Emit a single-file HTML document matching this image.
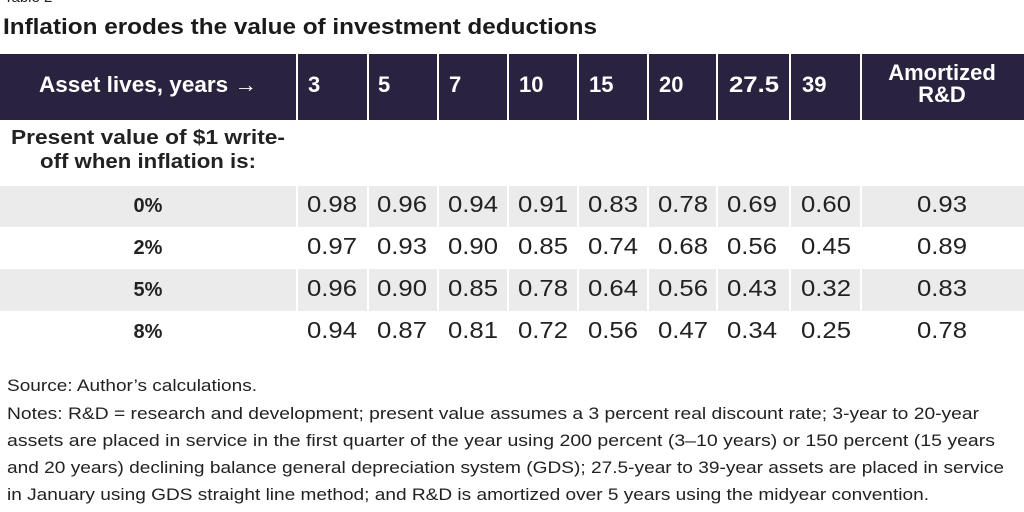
<!DOCTYPE html>
<html><head><meta charset="utf-8"><style>
html,body{margin:0;padding:0;background:#fff;width:1024px;height:512px;overflow:hidden}
svg{display:block}
text{font-family:"Liberation Sans",Arial,sans-serif}
.h{fill:#fff;font-weight:bold;font-size:22px}
.n{fill:#222;font-size:23px}
.b{fill:#222;font-weight:bold;font-size:20px}
.s{fill:#222;font-size:16.5px}
</style></head><body>
<svg width="1024" height="512" viewBox="0 0 1024 512">
<text x="4" y="2" class="s" style="font-size:15px">Table 2</text>
<text x="3" y="34" style="font-weight:bold;font-size:22px;fill:#1a1a1a" textLength="594" lengthAdjust="spacingAndGlyphs">Inflation erodes the value of investment deductions</text>
<g fill="#29233f">
<rect x="0" y="54" width="296" height="66"/>
<rect x="298" y="54" width="69" height="66"/>
<rect x="369" y="54" width="68" height="66"/>
<rect x="439" y="54" width="68" height="66"/>
<rect x="509" y="54" width="68" height="66"/>
<rect x="579" y="54" width="68" height="66"/>
<rect x="649" y="54" width="67" height="66"/>
<rect x="718" y="54" width="71" height="66"/>
<rect x="791" y="54" width="69" height="66"/>
<rect x="862" y="54" width="162" height="66"/>
</g>
<text x="148" y="92" class="h" text-anchor="middle" textLength="218" lengthAdjust="spacingAndGlyphs">Asset lives, years →</text>
<text x="308" y="92" class="h">3</text>
<text x="378" y="92" class="h">5</text>
<text x="449" y="92" class="h">7</text>
<text x="519" y="92" class="h">10</text>
<text x="589" y="92" class="h">15</text>
<text x="659" y="92" class="h">20</text>
<text x="729" y="92" class="h" textLength="50" lengthAdjust="spacingAndGlyphs">27.5</text>
<text x="802" y="92" class="h">39</text>
<text x="942" y="80" class="h" text-anchor="middle">Amortized</text>
<text x="942" y="102" class="h" text-anchor="middle">R&amp;D</text>
<text x="148" y="144" class="b" text-anchor="middle" textLength="274" lengthAdjust="spacingAndGlyphs">Present value of $1 write-</text>
<text x="148" y="168" class="b" text-anchor="middle" textLength="216" lengthAdjust="spacingAndGlyphs">off when inflation is:</text>
<g fill="#ebebeb">
<rect x="0" y="186" width="296" height="41"/><rect x="298" y="186" width="726" height="41"/>
<rect x="0" y="269" width="296" height="42"/><rect x="298" y="269" width="726" height="42"/>
</g>
<g stroke="#fff" stroke-width="2">
<line x1="368" y1="186" x2="368" y2="311"/><line x1="438" y1="186" x2="438" y2="311"/>
<line x1="508" y1="186" x2="508" y2="311"/><line x1="578" y1="186" x2="578" y2="311"/>
<line x1="648" y1="186" x2="648" y2="311"/><line x1="717" y1="186" x2="717" y2="311"/>
<line x1="790" y1="186" x2="790" y2="311"/><line x1="861" y1="186" x2="861" y2="311"/>
</g>
<text x="148" y="212" class="b" text-anchor="middle">0%</text>
<text x="148" y="254" class="b" text-anchor="middle">2%</text>
<text x="148" y="296" class="b" text-anchor="middle">5%</text>
<text x="148" y="338" class="b" text-anchor="middle">8%</text>
<g class="n" id="nums"></g>
</svg>
<script>
var xs=[307,377,448,518,588,658,727,801,917];
var rows=[["0.98","0.96","0.94","0.91","0.83","0.78","0.69","0.60","0.93"],
["0.97","0.93","0.90","0.85","0.74","0.68","0.56","0.45","0.89"],
["0.96","0.90","0.85","0.78","0.64","0.56","0.43","0.32","0.83"],
["0.94","0.87","0.81","0.72","0.56","0.47","0.34","0.25","0.78"]];
var g=document.getElementById("nums"),ns="http://www.w3.org/2000/svg";
rows.forEach(function(r,i){r.forEach(function(v,j){var t=document.createElementNS(ns,"text");
t.setAttribute("x",xs[j]);t.setAttribute("y",212+42*i);t.setAttribute("textLength","50");
t.setAttribute("lengthAdjust","spacingAndGlyphs");t.textContent=v;g.appendChild(t);});});
</script>
<svg width="1024" height="512" viewBox="0 0 1024 512" style="position:absolute;left:0;top:0">
<text x="7" y="391" class="s" textLength="250" lengthAdjust="spacingAndGlyphs">Source: Author’s calculations.</text>
<text x="7" y="419" class="s" textLength="972" lengthAdjust="spacingAndGlyphs">Notes: R&amp;D = research and development; present value assumes a 3 percent real discount rate; 3-year to 20-year</text>
<text x="7" y="446" class="s" textLength="988" lengthAdjust="spacingAndGlyphs">assets are placed in service in the first quarter of the year using 200 percent (3–10 years) or 150 percent (15 years</text>
<text x="7" y="473" class="s" textLength="997" lengthAdjust="spacingAndGlyphs">and 20 years) declining balance general depreciation system (GDS); 27.5-year to 39-year assets are placed in service</text>
<text x="7" y="500" class="s" textLength="922" lengthAdjust="spacingAndGlyphs">in January using GDS straight line method; and R&amp;D is amortized over 5 years using the midyear convention.</text>
</svg>
</body></html>
